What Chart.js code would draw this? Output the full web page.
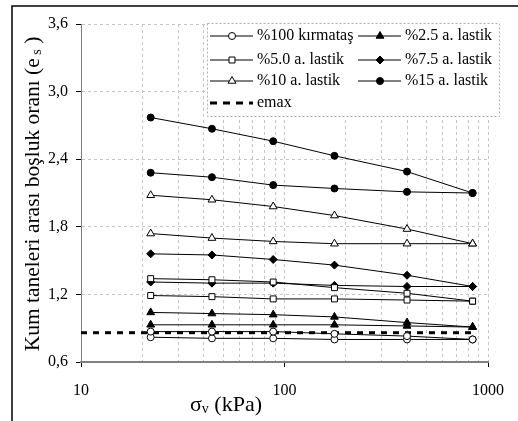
<!DOCTYPE html>
<html>
<head>
<meta charset="utf-8">
<script src="https://cdn.jsdelivr.net/npm/chart.js@4/dist/chart.umd.min.js"></script>
<style>
  html, body { margin: 0; padding: 0; background: #fff; }
  canvas { display: block; }
</style>
</head>
<body>
<canvas id="boslukChart" width="518" height="421"></canvas>
<script>
// gerilme kademeleri (kPa)
const stressKPa = [22, 44, 88, 176, 400, 840];

// her karisim icin iki seri
const kirmatas100 = [[0.87, 0.87, 0.87, 0.85, 0.83, 0.80], [0.82, 0.81, 0.81, 0.80, 0.80, 0.80]];
const lastik25 = [[1.04, 1.03, 1.02, 1.00, 0.95, 0.91], [0.93, 0.93, 0.93, 0.93, 0.92, 0.91]];
const lastik50 = [[1.34, 1.33, 1.31, 1.26, 1.21, 1.14], [1.19, 1.18, 1.16, 1.16, 1.15, 1.14]];
const lastik75 = [[1.56, 1.55, 1.51, 1.46, 1.37, 1.27], [1.31, 1.30, 1.30, 1.28, 1.27, 1.27]];
const lastik10 = [[2.08, 2.04, 1.98, 1.90, 1.78, 1.65], [1.74, 1.70, 1.67, 1.65, 1.65, 1.65]];
const lastik15 = [[2.77, 2.67, 2.56, 2.43, 2.29, 2.10], [2.28, 2.24, 2.17, 2.14, 2.11, 2.10]];

const emaxValue = 0.86;
const emaxStress = [10, 840];

const yTickValues = [0.6, 1.2, 1.8, 2.4, 3.0, 3.6];
const xGridValues = [10, 20, 30, 40, 50, 60, 70, 80, 90, 100, 200, 300, 400, 500, 600, 700, 800, 900, 1000];
const xLabelValues = [10, 100, 1000];

const groupLabels = ['%100 kırmataş', '%2.5 a. lastik', '%5.0 a. lastik', '%7.5 a. lastik', '%10 a. lastik', '%15 a. lastik'];
const groupValues = [kirmatas100, lastik25, lastik50, lastik75, lastik10, lastik15];
const groupMarkers = [
    { style: 'circle', fill: '#ffffff', r: 3.5 },
    { style: 'triangle', fill: '#000000', r: 4.5 },
    { style: 'rect', fill: '#ffffff', r: 4.2 },
    { style: 'rectRot', fill: '#000000', r: 4 },
    { style: 'triangle', fill: '#ffffff', r: 4.5 },
    { style: 'circle', fill: '#000000', r: 3.5 }
];

const FONT = '"Liberation Serif", "Times New Roman", serif';
Chart.defaults.font.family = FONT;
Chart.defaults.color = '#000';

function buildDatasets() {
    const out = [];
    groupValues.forEach((series, g) => {
        const m = groupMarkers[g];
        series.forEach(vals => {
            out.push({
                label: groupLabels[g],
                data: stressKPa.map((x, i) => ({ x: x, y: vals[i] })),
                borderColor: '#000',
                borderWidth: 1,
                pointStyle: m.style,
                pointRadius: m.r,
                pointBackgroundColor: m.fill,
                pointBorderColor: '#000',
                pointBorderWidth: 1,
                tension: 0
            });
        });
    });
    out.push({
        label: 'emax',
        data: emaxStress.map(x => ({ x: x, y: emaxValue })),
        borderColor: '#000',
        borderWidth: 3,
        borderDash: [6, 6],
        pointRadius: 0
    });
    return out;
}

// cerceve, eksen basliklari ve lejant
const decorPlugin = {
    id: 'decor',
    afterDraw(chart) {
        const ctx = chart.ctx;
        ctx.save();

        // dis cerceve
        ctx.strokeStyle = '#000';
        ctx.lineWidth = 1.5;
        ctx.beginPath();
        ctx.moveTo(12, 421);
        ctx.lineTo(12, 6);
        ctx.lineTo(518, 6);
        ctx.stroke();

        // y basligi
        ctx.fillStyle = '#000';
        ctx.textBaseline = 'middle';
        ctx.textAlign = 'left';
        const yMain = 'Kum taneleri arası boşluk oranı (e', ySub = ' s', yEnd = ' )';
        ctx.font = '21.5px ' + FONT;
        const w1 = ctx.measureText(yMain).width, w3 = ctx.measureText(yEnd).width;
        ctx.font = '14px ' + FONT;
        const w2 = ctx.measureText(ySub).width;
        ctx.translate(33, 194);
        ctx.rotate(-Math.PI / 2);
        let sx = -(w1 + w2 + w3) / 2;
        ctx.font = '21.5px ' + FONT;
        ctx.fillText(yMain, sx, 0);
        ctx.font = '14px ' + FONT;
        ctx.fillText(ySub, sx + w1, 4);
        ctx.font = '21.5px ' + FONT;
        ctx.fillText(yEnd, sx + w1 + w2, 0);
        ctx.setTransform(1, 0, 0, 1, 0, 0);

        // x basligi
        ctx.font = '22px ' + FONT;
        const a1 = ctx.measureText('σ').width, a3 = ctx.measureText(' (kPa)').width;
        ctx.font = '14px ' + FONT;
        const a2 = ctx.measureText('v').width;
        sx = 226 - (a1 + a2 + a3) / 2;
        ctx.font = '22px ' + FONT;
        ctx.fillText('σ', sx, 405);
        ctx.font = '14px ' + FONT;
        ctx.fillText('v', sx + a1, 409);
        ctx.font = '22px ' + FONT;
        ctx.fillText(' (kPa)', sx + a1 + a2, 405);

        // lejant
        ctx.fillStyle = '#fff';
        ctx.fillRect(207, 23, 293, 94);
        ctx.strokeStyle = '#b0b0b0';
        ctx.lineWidth = 1;
        ctx.setLineDash([2, 2]);
        ctx.strokeRect(207.5, 23.5, 292, 93);
        ctx.setLineDash([]);

        const colX = [210, 358];
        const rowY = [36, 60, 81, 103];
        ctx.font = '16px ' + FONT;
        ctx.textAlign = 'left';
        ctx.textBaseline = 'middle';
        groupLabels.forEach((lab, g) => {
            const x = colX[g % 2], y = rowY[Math.floor(g / 2)];
            const m = groupMarkers[g];
            ctx.strokeStyle = '#000';
            ctx.lineWidth = 1;
            ctx.beginPath();
            ctx.moveTo(x, y);
            ctx.lineTo(x + 43, y);
            ctx.stroke();
            ctx.fillStyle = m.fill;
            Chart.helpers.drawPoint(ctx, {
                pointStyle: m.style, radius: m.r, borderWidth: 1, rotation: 0
            }, x + 22, y);
            ctx.fillStyle = '#000';
            ctx.fillText(lab, x + 47, y);
        });
        ctx.strokeStyle = '#000';
        ctx.lineWidth = 3;
        ctx.setLineDash([7, 6]);
        ctx.beginPath();
        ctx.moveTo(210, rowY[3]);
        ctx.lineTo(253, rowY[3]);
        ctx.stroke();
        ctx.setLineDash([]);
        ctx.fillStyle = '#000';
        ctx.fillText('emax', 257, rowY[3]);

        ctx.restore();
    }
};

new Chart(document.getElementById('boslukChart'), {
    type: 'line',
    data: { datasets: buildDatasets() },
    options: {
        responsive: false,
        animation: false,
        layout: { padding: { left: 0, right: 20, top: 24, bottom: 0 } },
        plugins: {
            legend: { display: false },
            tooltip: { enabled: false }
        },
        scales: {
            x: {
                type: 'logarithmic',
                min: 10,
                max: 1000,
                afterBuildTicks: s => { s.ticks = xGridValues.map(v => ({ value: v })); },
                afterFit: s => { s.height = 59; },
                ticks: {
                    autoSkip: false,
                    maxRotation: 0,
                    padding: 14,
                    font: { size: 16 },
                    color: '#000',
                    callback: v => xLabelValues.includes(v) ? String(v) : ''
                },
                grid: {
                    color: c => (c.tick && c.tick.value === 10) ? 'rgba(0,0,0,0)' : '#c4c4c4',
                    lineWidth: 1,
                    tickLength: 5,
                    tickColor: c => (c.tick && xLabelValues.includes(c.tick.value)) ? '#000' : 'rgba(0,0,0,0)'
                },
                border: { color: '#808080', width: 2, dash: [3, 3] }
            },
            y: {
                min: 0.6,
                max: 3.6,
                afterBuildTicks: s => { s.ticks = yTickValues.map(v => ({ value: v })); },
                afterFit: s => { s.width = 81; },
                ticks: {
                    padding: 8,
                    font: { size: 16 },
                    color: '#000',
                    callback: v => v.toFixed(1).replace('.', ',')
                },
                grid: {
                    color: c => (c.tick && Math.abs(c.tick.value - 0.6) < 1e-6) ? 'rgba(0,0,0,0)' : '#c4c4c4',
                    lineWidth: 1,
                    tickLength: 5,
                    tickColor: '#000'
                },
                border: { color: '#808080', width: 1, dash: [3, 3] }
            }
        }
    },
    plugins: [decorPlugin]
});
</script>
</body>
</html>
